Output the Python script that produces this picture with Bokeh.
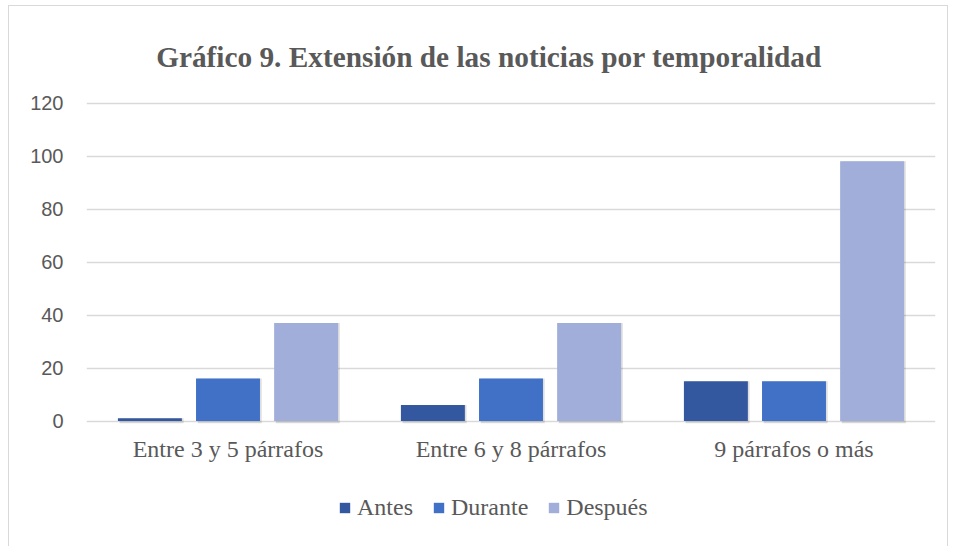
from bokeh.plotting import figure
from bokeh.models import ColumnDataSource, FactorRange, Range1d, Legend, LegendItem, FixedTicker
from bokeh.transform import dodge
from bokeh.core.properties import value
from bokeh.embed import file_html
from bokeh.resources import INLINE

categories = ["Entre 3 y 5 párrafos", "Entre 6 y 8 párrafos", "9 párrafos o más"]
series = ["Antes", "Durante", "Después"]
antes = [1, 6, 15]
durante = [16, 16, 15]
despues = [37, 37, 98]
y_ticks = [0, 20, 40, 60, 80, 100, 120]
title_text = "Gráfico 9. Extensión de las noticias por temporalidad"

colors = ["#34589F", "#4171C6", "#A0AED9"]

src = ColumnDataSource(dict(cat=categories, Antes=antes, Durante=durante, Despues=despues,
                            base=[0] * len(categories)))

# frame spans the whole chart area; value axis ticks only 0-120
p = figure(width=940, height=545, x_range=FactorRange(*categories, range_padding=0),
           y_range=Range1d(-43.58, 148.87), output_backend="svg", toolbar_location=None,
           min_border_left=77, min_border_right=14, min_border_top=20, min_border_bottom=15)
p.margin = (5, 0, 0, 8)

p.outline_line_color = None
p.border_fill_color = "white"
p.background_fill_color = "white"

offsets = [-0.276, 0.0, 0.276]
keys = ["Antes", "Durante", "Despues"]
renderers = []
for k, off, c in zip(keys, offsets, colors):
    p.vbar(x=dodge("cat", off + 0.006, range=p.x_range), top=k, bottom=-0.8, width=0.226,
           source=src, fill_color="#000000", fill_alpha=0.13, line_color=None)
    r = p.vbar(x=dodge("cat", off, range=p.x_range), top=k, width=0.226, source=src,
               fill_color=c, line_color=None)
    renderers.append(r)

# category labels under the baseline
p.text(x="cat", y="base", text="cat", source=src, y_offset=28,
       text_font=value("Liberation Serif"), text_font_size="24px", text_color="#595959",
       text_align="center", text_baseline="middle")

# chart title above the top gridline
title_src = ColumnDataSource(dict(x=[categories[1]], y=[y_ticks[-1]], t=[title_text]))
p.text(x="x", y="y", text="t", source=title_src, x_offset=-22, y_offset=-46,
       text_font=value("Liberation Serif"), text_font_size="29.3px", text_font_style="bold",
       text_color="#595959", text_align="center", text_baseline="alphabetic")

p.yaxis.ticker = FixedTicker(ticks=y_ticks)
p.yaxis.axis_line_color = None
p.yaxis.major_tick_line_color = None
p.yaxis.minor_tick_line_color = None
p.yaxis.major_label_text_font = "Liberation Sans"
p.yaxis.major_label_text_font_size = "20px"
p.yaxis.major_label_text_color = "#595959"
p.yaxis.major_label_standoff = 17

p.xaxis.visible = False

p.xgrid.grid_line_color = None
p.ygrid.grid_line_color = "#D9D9D9"
p.ygrid.grid_line_width = 1.5

legend = Legend(items=[LegendItem(label=s, renderers=[r]) for s, r in zip(series, renderers)],
                orientation="horizontal", location=(252, 15),
                label_text_font="Liberation Serif", label_text_font_size="24px",
                label_text_color="#595959", glyph_width=13, glyph_height=13,
                spacing=19, label_standoff=6, border_line_color=None,
                background_fill_alpha=0, margin=0, padding=0)
p.add_layout(legend, "center")

p.styles = {"border": "1.5px solid #D9D9D9"}

open("out.html", "w").write(file_html(p, INLINE))
